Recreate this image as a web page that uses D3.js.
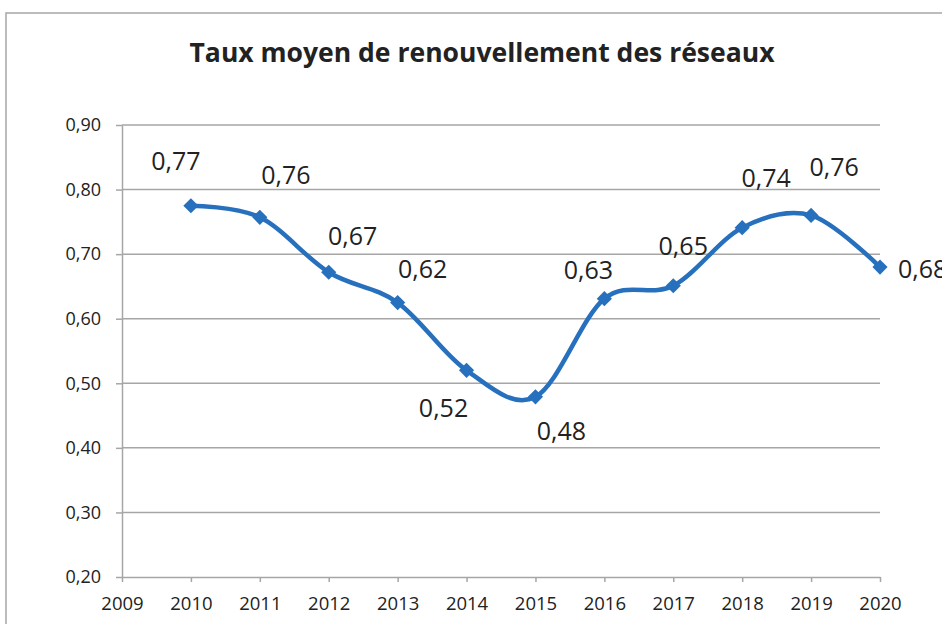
<!DOCTYPE html>
<html lang="fr">
<head>
<meta charset="UTF-8">
<script src="https://cdn.jsdelivr.net/npm/d3@7"></script>
<style>
  body { margin: 0; background: #fff; }
  svg { display: block; }
</style>
</head>
<body>
<svg id="chart" width="942" height="624"></svg>
<script>
  // data
  const years = [2010, 2011, 2012, 2013, 2014, 2015, 2016, 2017, 2018, 2019, 2020];
  const taux = [0.775, 0.757, 0.672, 0.625, 0.52, 0.479, 0.631, 0.651, 0.741, 0.76, 0.68];
  const labels = ["0,77", "0,76", "0,67", "0,62", "0,52", "0,48", "0,63", "0,65", "0,74", "0,76", "0,68"];
  const yTicks = [0.2, 0.3, 0.4, 0.5, 0.6, 0.7, 0.8, 0.9];
  const xTicks = [2009, 2010, 2011, 2012, 2013, 2014, 2015, 2016, 2017, 2018, 2019, 2020];

  // label placement (manual, like in the excel sheet)
  const labelOffsets = [[-15, -46], [26, -43], [24, -37], [25, -35], [-23, 37], [26, 33],
                        [-16, -30], [10, -41], [24, -51], [23, -49], [18, 1]];

  const svg = d3.select("#chart");
  const font = "'Open Sans', sans-serif";
  const grey = "#a6a6a6";

  // chart frame (goes past the window on right and bottom)
  svg.append("rect")
    .attr("x", 6).attr("y", 13)
    .attr("width", 1000).attr("height", 700)
    .attr("fill", "none").attr("stroke", grey).attr("stroke-width", 1.5);

  svg.append("text")
    .attr("x", 482).attr("y", 62)
    .attr("text-anchor", "middle")
    .attr("font-family", font).attr("font-weight", "bold")
    .attr("font-size", 27).attr("fill", "#222")
    .attr("textLength", 585).attr("lengthAdjust", "spacingAndGlyphs")
    .text("Taux moyen de renouvellement des réseaux");

  const x = d3.scaleLinear().domain([2009, 2020]).range([122, 880]);
  const y = d3.scaleLinear().domain([0.2, 0.9]).range([577, 125]);

  // grid
  svg.append("g").selectAll("line").data(yTicks.slice(1)).join("line")
    .attr("x1", 122).attr("x2", 880)
    .attr("y1", d => y(d)).attr("y2", d => y(d))
    .attr("stroke", grey).attr("stroke-width", 1.5);

  const fmt = d => d3.format(".2f")(d).replace(".", ",");

  const yAxis = svg.append("g")
    .attr("transform", "translate(122,0)")
    .call(d3.axisLeft(y).tickValues(yTicks).tickFormat(fmt).tickSize(6).tickSizeOuter(0).tickPadding(15));
  yAxis.select(".domain").attr("stroke", grey).attr("stroke-width", 1.5);
  yAxis.selectAll(".tick line").attr("stroke", grey).attr("stroke-width", 1.5);
  yAxis.selectAll("text").attr("font-family", font).attr("font-size", 18).attr("fill", "#222");

  const xAxis = svg.append("g")
    .attr("transform", "translate(0,577)")
    .call(d3.axisBottom(x).tickValues(xTicks).tickFormat(d3.format("d")).tickSize(5).tickSizeOuter(0).tickPadding(15));
  xAxis.select(".domain").attr("stroke", grey).attr("stroke-width", 1.5);
  xAxis.selectAll(".tick line").attr("stroke", grey).attr("stroke-width", 1.5);
  xAxis.selectAll("text").attr("font-family", font).attr("font-size", 18.5).attr("fill", "#222");

  const pts = years.map((yr, i) => [x(yr), y(taux[i])]);
  const blue = "#2770bd";

  svg.append("path")
    .attr("d", d3.line().curve(d3.curveCardinal.tension(0))(pts))
    .attr("fill", "none").attr("stroke", blue).attr("stroke-width", 4.5)
    .attr("stroke-linejoin", "round");

  svg.append("g").selectAll("path").data(pts).join("path")
    .attr("transform", d => `translate(${d[0]},${d[1]}) rotate(45)`)
    .attr("d", d3.symbol(d3.symbolSquare, 115))
    .attr("fill", blue);

  svg.append("g").selectAll("text").data(pts).join("text")
    .attr("x", (d, i) => d[0] + labelOffsets[i][0])
    .attr("y", (d, i) => d[1] + labelOffsets[i][1])
    .attr("text-anchor", (d, i) => i === pts.length - 1 ? "start" : "middle")
    .attr("dominant-baseline", "central")
    .attr("font-family", font).attr("font-size", 25).attr("fill", "#222")
    .text((d, i) => labels[i]);
</script>
</body>
</html>
